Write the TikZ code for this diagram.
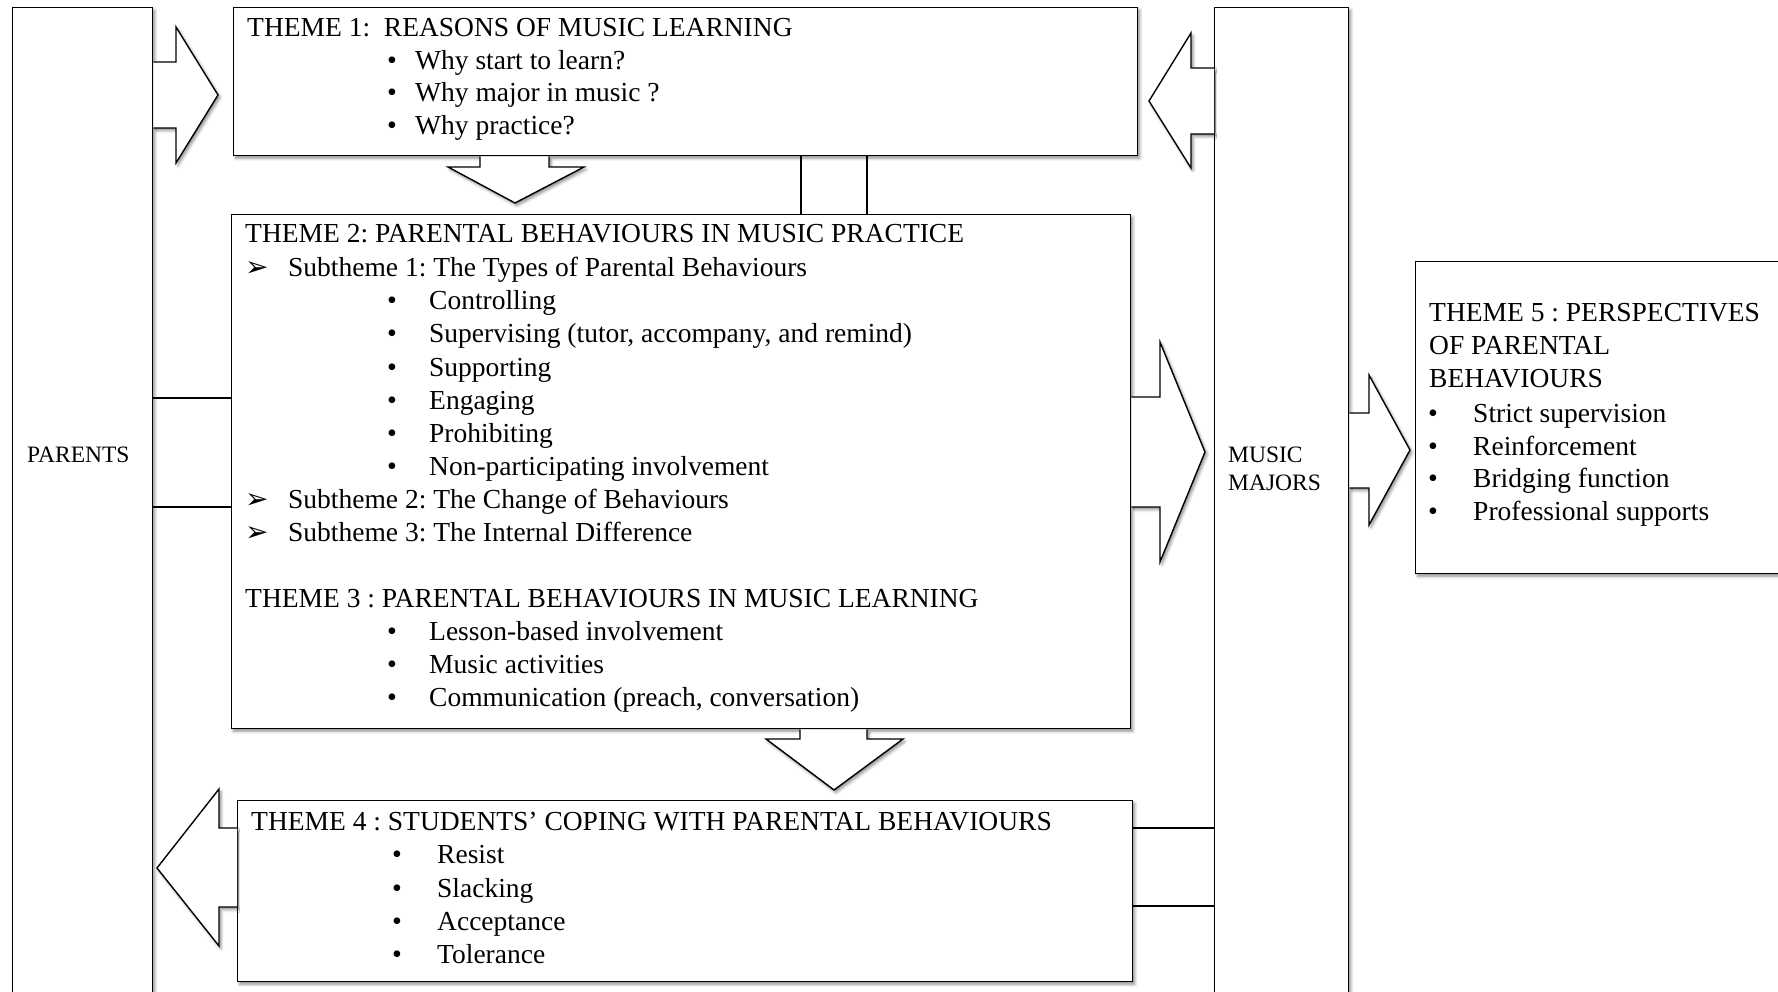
\documentclass[tikz,border=0pt]{standalone}
\usepackage{fontspec}
\setmainfont{Liberation Serif}
\newfontfamily\dingfont{DejaVu Sans}
\usetikzlibrary{shadows.blur}
\frenchspacing

\begin{document}
\begin{tikzpicture}[x=1pt,y=-1pt,
  softshadow/.style={blur shadow={shadow xshift=2pt, shadow yshift=-2.5pt,
      shadow blur radius=3pt, shadow opacity=45}},
  box/.style={draw, line width=1.4pt, fill=white, inner sep=0pt,
      anchor=north west, softshadow},
  blockarrow/.style={draw, line width=1.4pt, fill=white, line join=miter,
      softshadow},
  link/.style={line width=1.4pt},
  txt/.style={anchor=base west, inner sep=0pt,
      font=\fontsize{27.5}{33}\selectfont},
  side/.style={anchor=base west, inner sep=0pt,
      font=\fontsize{23.5}{28}\selectfont},
  dot/.style={anchor=base west, inner sep=0pt,
      font=\fontsize{28}{28}\selectfont},
  pointer/.style={anchor=base west, inner sep=0pt,
      font=\dingfont\fontsize{28}{28}\selectfont},
]
\useasboundingbox (0,0) rectangle (1778,992);
\clip (0,0) rectangle (1778,992);

% ---- boxes ----
\node[box, minimum width=140pt, minimum height=1030pt] (parents) at (12,7) {};
\node[box, minimum width=134pt, minimum height=1030pt] (mm) at (1214,7) {};
\node[box, minimum width=904pt, minimum height=148pt] (t1) at (233,7) {};
\node[box, minimum width=899pt, minimum height=514pt] (t2) at (231,214) {};
\node[box, minimum width=895pt, minimum height=181pt] (t4) at (237,800) {};
\node[box, minimum width=420pt, minimum height=312pt] (t5) at (1415,261) {};

% ---- plain two-line links ----
\draw[link] (parents.east |- 0,398) -- (t2.west |- 0,398);
\draw[link] (parents.east |- 0,507) -- (t2.west |- 0,507);
\draw[link] (801,0 |- t1.south) -- (801,0 |- t2.north);
\draw[link] (867,0 |- t1.south) -- (867,0 |- t2.north);
\draw[link] (t4.east |- 0,828) -- (mm.west |- 0,828);
\draw[link] (t4.east |- 0,906) -- (mm.west |- 0,906);

% ---- block arrows ----
\draw[blockarrow] (parents.east |- 0,62) -- (176,62) -- (176,27) -- (218,95)
  -- (176,163) -- (176,128) -- (parents.east |- 0,128);
\draw[blockarrow] (mm.west |- 0,68) -- (1191,68) -- (1191,33) -- (1149,101)
  -- (1191,168) -- (1191,134) -- (mm.west |- 0,134);
\draw[blockarrow] (480,0 |- t1.south) -- (480,167) -- (448,167) -- (515,203)
  -- (584,167) -- (549,167) -- (549,0 |- t1.south);
\draw[blockarrow] (t2.east |- 0,397) -- (1160,397) -- (1160,342) -- (1205,452)
  -- (1160,562) -- (1160,507) -- (t2.east |- 0,507);
\draw[blockarrow] (mm.east |- 0,413) -- (1369,413) -- (1369,375) -- (1410,450)
  -- (1369,525) -- (1369,488) -- (mm.east |- 0,488);
\draw[blockarrow] (800,0 |- t2.south) -- (800,739) -- (766,739) -- (834,790)
  -- (903,739) -- (867,739) -- (867,0 |- t2.south);
\draw[blockarrow] (t4.west |- 0,828) -- (219,828) -- (219,789) -- (157,868)
  -- (219,946) -- (219,907) -- (t4.west |- 0,907);

% ---- side labels ----
\node[side] (plab) at (27,462) {PARENTS};
\node[side] (mlaba) at (1228,462) {MUSIC};
\node[side] (mlabb) at (1228,490) {MAJORS};

% ---- theme 1 ----
\node[txt] (t1title) at (247,37) {THEME 1:\ \ REASONS OF MUSIC LEARNING};
\foreach \yy/\tt [count=\i] in {70/{Why start to learn?},
    102/{Why major in music ?}, 135/{Why practice?}} {
  \node[dot] (t1dot\i) at (387,\yy) {•};
  \node[txt] (t1item\i) at (415,\yy) {\tt};
}

% ---- theme 2 ----
\node[txt] (t2title) at (245,243) {THEME 2: PARENTAL BEHAVIOURS IN MUSIC PRACTICE};
\foreach \yy/\tt [count=\i] in {277/{Subtheme 1: The Types of Parental Behaviours},
    508/{Subtheme 2: The Change of Behaviours},
    541/{Subtheme 3: The Internal Difference}} {
  \node[pointer] (t2mark\i) at (245,\yy) {➢};
  \node[txt] (t2sub\i) at (288,\yy) {\tt};
}
\foreach \yy/\tt [count=\i] in {310/{Controlling},
    343/{Supervising (tutor, accompany, and remind)}, 376/{Supporting},
    409/{Engaging}, 442/{Prohibiting}, 475/{Non-participating involvement}} {
  \node[dot] (t2dot\i) at (387,\yy) {•};
  \node[txt] (t2item\i) at (429,\yy) {\tt};
}

% ---- theme 3 ----
\node[txt] (t3title) at (245,607) {THEME 3 : PARENTAL BEHAVIOURS IN MUSIC LEARNING};
\foreach \yy/\tt [count=\i] in {640/{Lesson-based involvement},
    673/{Music activities}, 706/{Communication (preach, conversation)}} {
  \node[dot] (t3dot\i) at (387,\yy) {•};
  \node[txt] (t3item\i) at (429,\yy) {\tt};
}

% ---- theme 4 ----
\node[txt] (t4title) at (251,830) {THEME 4 : STUDENTS’ COPING WITH PARENTAL BEHAVIOURS};
\foreach \yy/\tt [count=\i] in {863/Resist, 897/Slacking, 930/Acceptance,
    963/Tolerance} {
  \node[dot] (t4dot\i) at (392,\yy) {•};
  \node[txt] (t4item\i) at (437,\yy) {\tt};
}

% ---- theme 5 ----
\node[txt] (t5titlea) at (1429,322) {THEME 5 : PERSPECTIVES};
\node[txt] (t5titleb) at (1429,354) {OF PARENTAL};
\node[txt] (t5titlec) at (1429,388) {BEHAVIOURS};
\foreach \yy/\tt [count=\i] in {422/{Strict supervision}, 455/{Reinforcement},
    487/{Bridging function}, 520/{Professional supports}} {
  \node[dot] (t5dot\i) at (1428,\yy) {•};
  \node[txt] (t5item\i) at (1473,\yy) {\tt};
}
\end{tikzpicture}
\end{document}
